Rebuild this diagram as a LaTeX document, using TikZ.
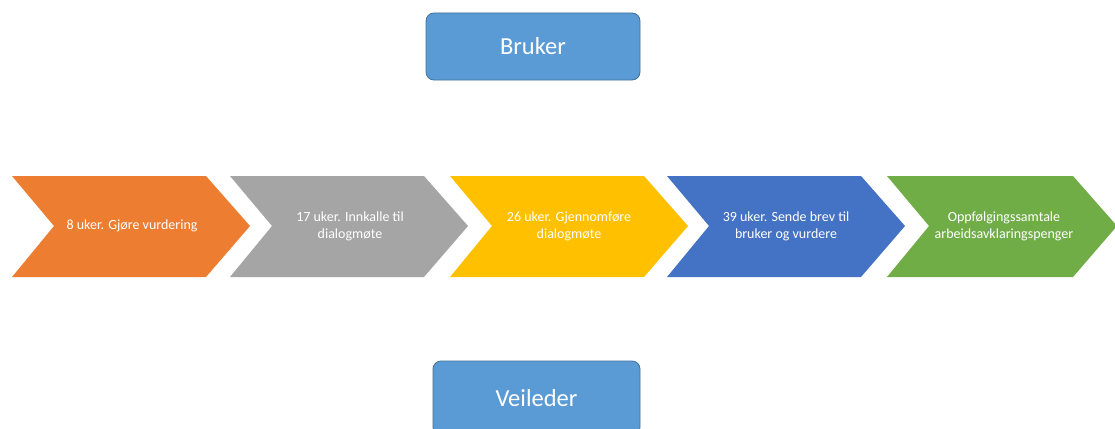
\documentclass[tikz,border=0pt]{standalone}
\usepackage{fontspec}
\setmainfont{Carlito}
\definecolor{stegOrange}{HTML}{ED7D31}
\definecolor{stegGraa}{HTML}{A5A5A5}
\definecolor{stegGul}{HTML}{FFC000}
\definecolor{stegBlaa}{HTML}{4472C4}
\definecolor{stegGronn}{HTML}{70AD47}
\definecolor{rolleFyll}{HTML}{5B9BD5}
\definecolor{rolleKant}{HTML}{41719C}
\tikzset{
  rolle/.style={draw=rolleKant, fill=rolleFyll, rounded corners=8pt, text=white,
    font=\fontsize{24.5}{28}\selectfont, line width=0.8pt},
  stegtekst/.style={text=white, align=center, font=\fontsize{14}{17}\selectfont}
}
\begin{document}
\begin{tikzpicture}[x=1pt, y=-1pt]
				\useasboundingbox (0, 0) rectangle (1115, 428);
				\fill[white] (0, 0) rectangle (1115, 428);
				% roller
				\node[rolle, minimum width=214pt, minimum height=67pt] (bruker) at (533, 46.5) {Bruker};
				\node[rolle, minimum width=207pt, minimum height=74pt] (veileder) at (536.5, 398) {Veileder};
				% steg
				\fill[stegOrange] (12, 176) -- (206, 176) -- (250, 226) -- (206, 277) -- (12, 277) -- (54, 226) -- cycle;
				\node[stegtekst] (uke8) at (132, 226) {8 uker. Gjøre vurdering};
				\fill[stegGraa] (230, 176) -- (424, 176) -- (468, 226) -- (424, 277) -- (230, 277) -- (272, 226) -- cycle;
				\node[stegtekst] (uke17) at (350, 226) {17 uker. Innkalle til\\dialogmøte};
				\fill[stegGul] (450, 176) -- (644, 176) -- (688, 226) -- (644, 277) -- (450, 277) -- (492, 226) -- cycle;
				\node[stegtekst] (uke26) at (569, 226) {26 uker. Gjennomføre\\dialogmøte};
				\fill[stegBlaa] (667, 176) -- (861, 176) -- (905, 226) -- (861, 277) -- (667, 277) -- (709, 226) -- cycle;
				\node[stegtekst] (uke39) at (786, 226) {39 uker. Sende brev til\\bruker og vurdere};
				\fill[stegGronn] (887, 176) -- (1073, 176) -- (1117, 226) -- (1073, 277) -- (887, 277) -- (929, 226) -- cycle;
				\node[stegtekst] (oppfolging) at (1004, 226) {Oppfølgingssamtale\\arbeidsavklaringspenger};
			\end{tikzpicture}
\end{document}
